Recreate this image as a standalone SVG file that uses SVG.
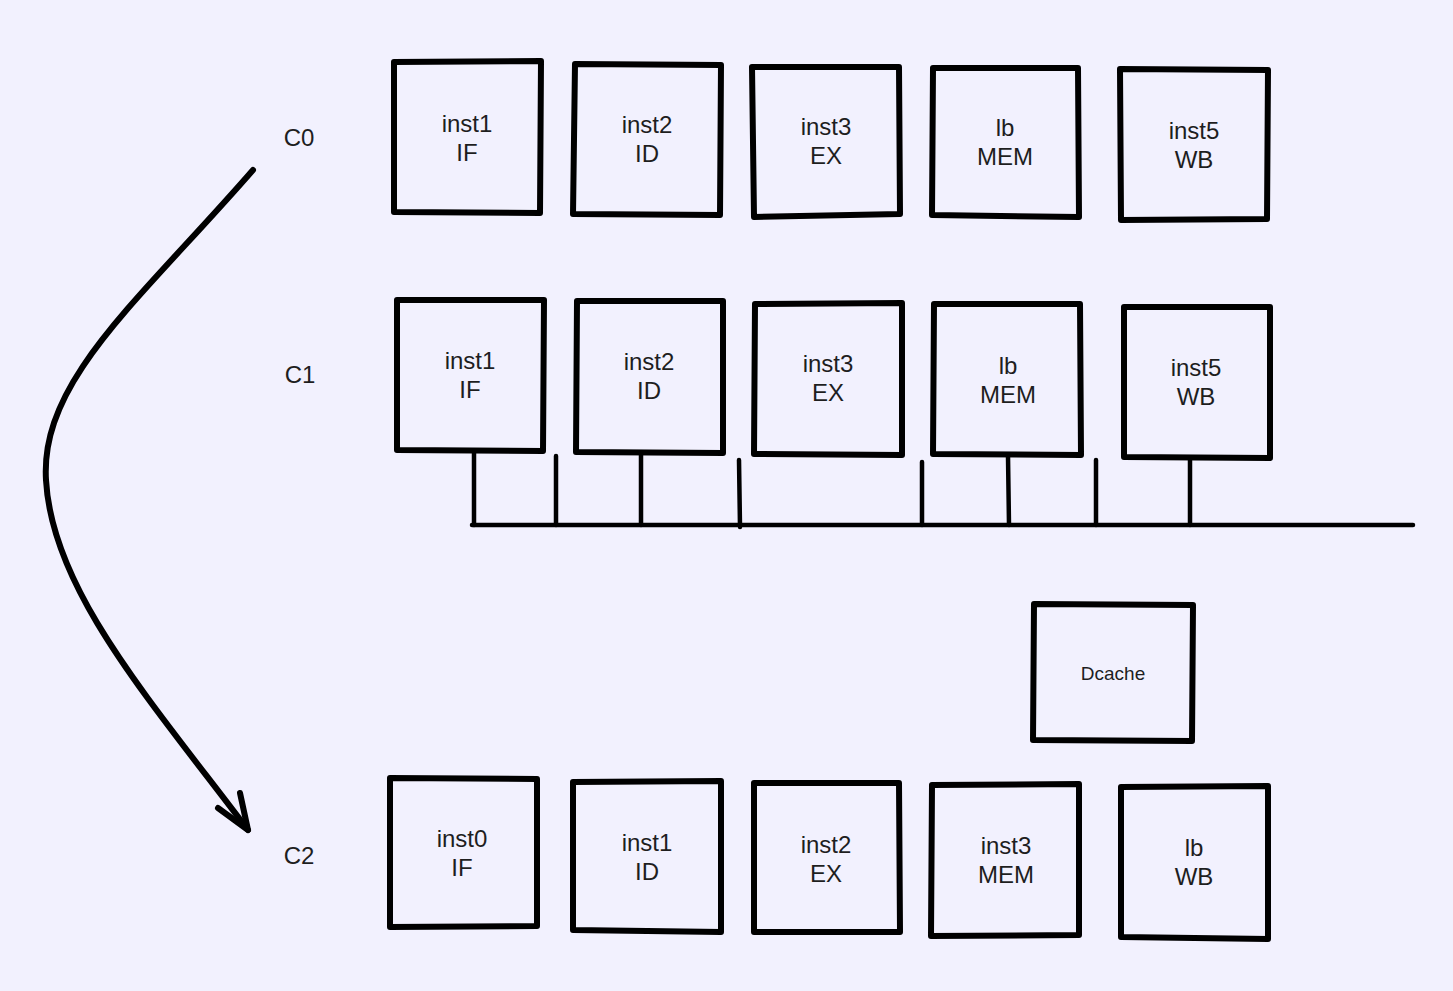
<svg xmlns="http://www.w3.org/2000/svg" width="1453" height="991" viewBox="0 0 1453 991">
<style>
.bg{fill:#f2f1fe}
.box{fill:none;stroke:#000;stroke-width:6;stroke-linejoin:round;stroke-linecap:round}
.ln{fill:none;stroke:#000;stroke-width:4.5;stroke-linecap:round}
.ar{fill:none;stroke:#000;stroke-width:6;stroke-linecap:round;stroke-linejoin:round}
.t{font-family:"Liberation Sans",Arial,sans-serif;font-size:24px;fill:#1e1e1e;text-anchor:middle}
.s{font-family:"Liberation Sans",Arial,sans-serif;font-size:19px;fill:#1e1e1e;text-anchor:middle}
</style>
<rect class="bg" x="0" y="0" width="1453" height="991"/>
<g id="labels">
<text class="t" x="299" y="146">C0</text>
<text class="t" x="300" y="383">C1</text>
<text class="t" x="299" y="864">C2</text>
</g>
<g id="c0-if"><path class="box" d="M394,62 L541,61 L540,213 L394,212 Z"/><text class="t" x="467" y="132">inst1</text><text class="t" x="467" y="161">IF</text></g>
<g id="c0-id"><path class="box" d="M575,64 L721,65 L720,215 L573,214 Z"/><text class="t" x="647" y="133">inst2</text><text class="t" x="647" y="162">ID</text></g>
<g id="c0-ex"><path class="box" d="M752,67 L899,67 L900,214 L754,217 Z"/><text class="t" x="826" y="135">inst3</text><text class="t" x="826" y="164">EX</text></g>
<g id="c0-mem"><path class="box" d="M933,68 L1078,68 L1079,217 L932,215 Z"/><text class="t" x="1005" y="136">lb</text><text class="t" x="1005" y="165">MEM</text></g>
<g id="c0-wb"><path class="box" d="M1120,69 L1268,70 L1267,219 L1121,220 Z"/><text class="t" x="1194" y="139">inst5</text><text class="t" x="1194" y="168">WB</text></g>

<g id="c1-if"><path class="box" d="M397,300 L544,300 L543,451 L397,450 Z"/><text class="t" x="470" y="369">inst1</text><text class="t" x="470" y="398">IF</text></g>
<g id="c1-id"><path class="box" d="M577,301 L723,301 L723,453 L576,452 Z"/><text class="t" x="649" y="370">inst2</text><text class="t" x="649" y="399">ID</text></g>
<g id="c1-ex"><path class="box" d="M755,304 L902,303 L902,455 L754,454 Z"/><text class="t" x="828" y="372">inst3</text><text class="t" x="828" y="401">EX</text></g>
<g id="c1-mem"><path class="box" d="M934,304 L1080,304 L1081,455 L933,454 Z"/><text class="t" x="1008" y="374">lb</text><text class="t" x="1008" y="403">MEM</text></g>
<g id="c1-wb"><path class="box" d="M1124,307 L1270,307 L1270,458 L1124,457 Z"/><text class="t" x="1196" y="376">inst5</text><text class="t" x="1196" y="405">WB</text></g>

<g id="dcache"><path class="box" d="M1034,604 L1193,605 L1192,741 L1033,740 Z"/><text class="s" x="1113" y="680">Dcache</text></g>

<g id="c2-if"><path class="box" d="M390,778 L537,779 L537,926 L390,927 Z"/><text class="t" x="462" y="847">inst0</text><text class="t" x="462" y="876">IF</text></g>
<g id="c2-id"><path class="box" d="M573,782 L721,781 L721,932 L573,930 Z"/><text class="t" x="647" y="851">inst1</text><text class="t" x="647" y="880">ID</text></g>
<g id="c2-ex"><path class="box" d="M754,783 L899,783 L900,932 L754,932 Z"/><text class="t" x="826" y="853">inst2</text><text class="t" x="826" y="882">EX</text></g>
<g id="c2-mem"><path class="box" d="M932,785 L1079,784 L1079,935 L931,936 Z"/><text class="t" x="1006" y="854">inst3</text><text class="t" x="1006" y="883">MEM</text></g>
<g id="c2-wb"><path class="box" d="M1121,787 L1268,786 L1268,939 L1121,937 Z"/><text class="t" x="1194" y="856">lb</text><text class="t" x="1194" y="885">WB</text></g>

<g id="connectors">
<path class="ln" d="M472,525 L1413,525"/>
<path class="ln" d="M474,452 L474,525"/>
<path class="ln" d="M556,456 L556,525"/>
<path class="ln" d="M641,454 L641,525"/>
<path class="ln" d="M739,460 L740,527"/>
<path class="ln" d="M922,462 L922,525"/>
<path class="ln" d="M1008,456 L1009,525"/>
<path class="ln" d="M1096,460 L1096,525"/>
<path class="ln" d="M1190,459 L1190,525"/>
<path class="ar" d="M253,170 C140,300 40,380 46,480 C52,590 150,700 248,830"/>
<path class="ar" d="M218,808 L248,830 L240,793"/>
</g>
</svg>
